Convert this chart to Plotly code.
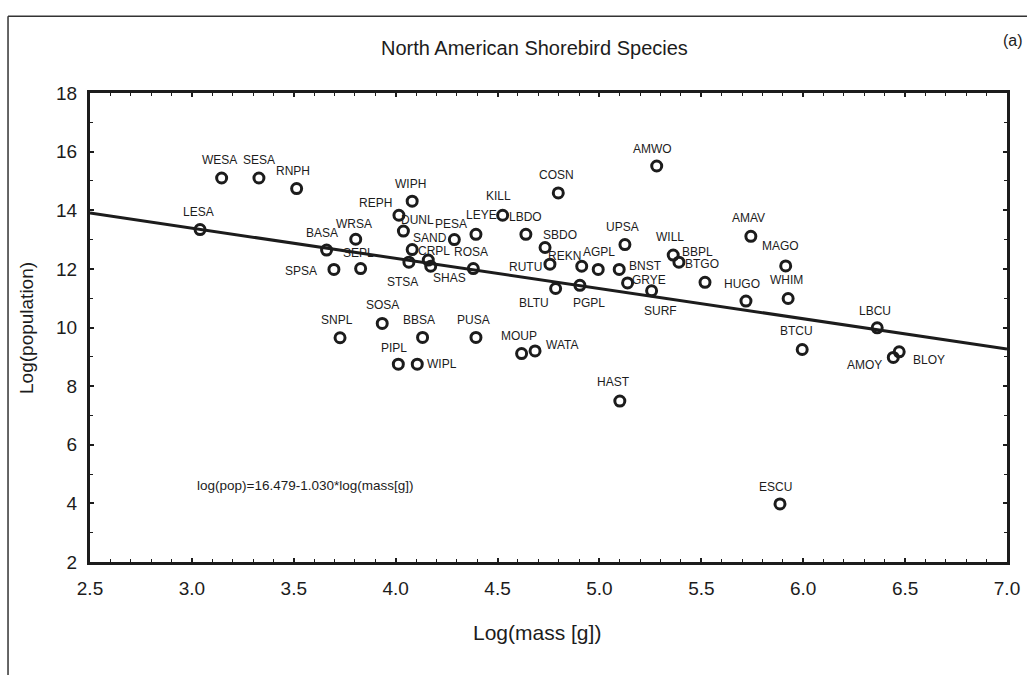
import plotly.graph_objects as go

# ---- data ----
species = ["WESA", "SESA", "RNPH", "LESA", "BASA", "WRSA", "SPSA", "SEPL", "WIPH", "REPH",
           "DUNL", "SAND", "STSA", "CRPL", "SHAS", "PESA", "LEYE", "KILL", "LBDO", "COSN",
           "AMWO", "ROSA", "SBDO", "RUTU", "REKN", "AGPL", "BNST", "UPSA", "GRYE", "SURF",
           "WILL", "BBPL", "BTGO", "BLTU", "PGPL", "HUGO", "AMAV", "MAGO", "WHIM", "LBCU",
           "BTCU", "AMOY", "BLOY", "ESCU", "HAST", "MOUP", "WATA", "PUSA", "BBSA", "SOSA",
           "SNPL", "PIPL", "WIPL"]
log_mass = [3.146, 3.329, 3.514, 3.040, 3.661, 3.804, 3.697, 3.828, 4.081, 4.016,
            4.038, 4.081, 4.065, 4.160, 4.172, 4.288, 4.394, 4.525, 4.639, 4.798,
            5.281, 4.381, 4.733, 4.757, 4.913, 4.994, 5.097, 5.125, 5.138, 5.256,
            5.362, 5.390, 5.518, 4.785, 4.904, 5.719, 5.743, 5.914, 5.926, 6.363,
            5.995, 6.442, 6.471, 5.886, 5.100, 4.618, 4.684, 4.394, 4.132, 3.934,
            3.727, 4.013, 4.106]
log_pop = [15.10, 15.10, 14.74, 13.34, 12.64, 13.01, 11.98, 12.01, 14.31, 13.83,
           13.29, 12.66, 12.23, 12.30, 12.09, 13.00, 13.18, 13.83, 13.18, 14.59,
           15.51, 12.01, 12.73, 12.16, 12.09, 11.98, 11.98, 12.83, 11.52, 11.25,
           12.47, 12.23, 11.54, 11.33, 11.44, 10.90, 13.11, 12.10, 10.99, 9.99,
           9.25, 8.98, 9.17, 3.98, 7.49, 9.11, 9.20, 9.66, 9.66, 10.14,
           9.65, 8.75, 8.75]
intercept = 16.479
slope = -1.030
x_range = [2.5, 7.0]
y_range = [2, 18]
x_ticks = [2.5, 3.0, 3.5, 4.0, 4.5, 5.0, 5.5, 6.0, 6.5, 7.0]
x_tick_text = ["2.5", "3.0", "3.5", "4.0", "4.5", "5.0", "5.5", "6.0", "6.5", "7.0"]
y_ticks = [2, 4, 6, 8, 10, 12, 14, 16, 18]

# ---- label placement (pixel offsets: dx right, dy down) ----
label_offsets = {
    "WESA": (-2, -18), "SESA": (0, -18), "RNPH": (-4, -18), "LESA": (-2, -18),
    "BASA": (-5, -17), "WRSA": (-2, -15), "SPSA": (-33, 2), "SEPL": (-2, -16),
    "WIPH": (-2, -17), "REPH": (-23, -12), "DUNL": (14, -11), "PESA": (-3, -16),
    "SAND": (18, -12), "CRPL": (6, -9), "STSA": (-6, 20), "SHAS": (19, 12),
    "LEYE": (6, -19), "KILL": (-4, -19), "LBDO": (0, -17), "COSN": (-2, -18),
    "AMWO": (-4, -17), "ROSA": (-2, -17), "SBDO": (15, -12), "RUTU": (-24, 3),
    "REKN": (-17, -10), "AGPL": (1, -17), "BNST": (26, -3), "UPSA": (-2, -18),
    "GRYE": (21, -3), "SURF": (9, 20), "WILL": (-3, -18), "BBPL": (19, -10),
    "BTGO": (-3, -18), "BLTU": (-22, 14), "PGPL": (9, 18), "HUGO": (-4, -17),
    "WHIM": (-2, -18), "LBCU": (-2, -17), "BTCU": (-6, -18), "AMOY": (-29, 8),
    "BLOY": (30, 8), "MAGO": (-5, -20), "AMAV": (-2, -18), "HAST": (-6, -19),
    "ESCU": (-4, -17), "SOSA": (0, -18), "SNPL": (-3, -18), "BBSA": (-4, -17),
    "PUSA": (-2, -17), "PIPL": (-4, -16), "WIPL": (25, 0), "MOUP": (-3, -18),
    "WATA": (27, -6),
}

FONT = "Liberation Sans, Arial, sans-serif"
INK = "#1c1c1c"

fig = go.Figure()

# regression line
line_x = list(x_range)
line_y = [intercept + slope * v for v in line_x]
fig.add_trace(go.Scatter(x=line_x, y=line_y, mode="lines",
                         line=dict(color=INK, width=3), hoverinfo="skip", showlegend=False))

# points
fig.add_trace(go.Scatter(x=log_mass, y=log_pop, mode="markers", text=species,
                         marker=dict(symbol="circle-open", size=10, color=INK,
                                     line=dict(width=3, color=INK)),
                         showlegend=False))

annotations = []
for name, xv, yv in zip(species, log_mass, log_pop):
    dx, dy = label_offsets[name]
    annotations.append(dict(x=xv, y=yv, xref="x", yref="y", text=name, showarrow=False,
                            xanchor="center", yanchor="middle",
                            xshift=dx, yshift=-dy, font=dict(family=FONT, size=12, color=INK)))

# equation text
annotations.append(dict(x=3.557, y=4.62, xref="x", yref="y",
                        text="log(pop)=16.479-1.030*log(mass[g])", showarrow=False,
                        xanchor="center", yanchor="middle",
                        font=dict(family=FONT, size=13.5, color=INK)))
# title
annotations.append(dict(x=0.485, y=1.097, xref="paper", yref="paper",
                        text="North American Shorebird Species", showarrow=False,
                        xanchor="center", yanchor="middle",
                        font=dict(family=FONT, size=20, color=INK)))
# panel letter
annotations.append(dict(x=1.0065, y=1.112, xref="paper", yref="paper", text="(a)",
                        xanchor="center", yanchor="middle",
                        showarrow=False, font=dict(family=FONT, size=16, color=INK)))
# axis titles
annotations.append(dict(x=0.4875, y=-0.151, xref="paper", yref="paper", text="Log(mass [g])",
                        xanchor="center", yanchor="middle",
                        showarrow=False, font=dict(family=FONT, size=21, color=INK)))
annotations.append(dict(x=-0.07, y=0.4986, xref="paper", yref="paper", text="Log(population)",
                        textangle=-90, showarrow=False, xanchor="center", yanchor="middle",
                        font=dict(family=FONT, size=19, color=INK)))

shapes = [
    dict(type="line", xref="paper", yref="paper", x0=-0.0894, x1=1.0218, y0=1.1634, y1=1.1634,
         line=dict(color="#333333", width=1.5)),
    dict(type="line", xref="paper", yref="paper", x0=-0.0894, x1=-0.0894, y0=1.1634, y1=-0.25,
         line=dict(color="#333333", width=1.5)),
]

fig.update_layout(
    width=1031, height=675,
    margin=dict(l=90, r=24, t=93, b=113),
    paper_bgcolor="white", plot_bgcolor="white",
    annotations=annotations, shapes=shapes,
    font=dict(family=FONT, color=INK),
)
fig.update_xaxes(range=x_range, tickvals=x_ticks, ticktext=x_tick_text,
                 showgrid=False, zeroline=False,
                 showline=True, linecolor=INK, linewidth=3, mirror="allticks",
                 ticks="inside", ticklen=4, tickwidth=1.5, tickcolor=INK,
                 minor=dict(dtick=0.1, ticks="inside", ticklen=3, tickwidth=1.2, tickcolor=INK),
                 tickfont=dict(family=FONT, size=19, color=INK), ticklabelstandoff=7)
fig.update_yaxes(range=y_range, tickvals=y_ticks,
                 showgrid=False, zeroline=False,
                 showline=True, linecolor=INK, linewidth=3, mirror="allticks",
                 ticks="inside", ticklen=4, tickwidth=1.5, tickcolor=INK,
                 minor=dict(dtick=1, ticks="inside", ticklen=3, tickwidth=1.2, tickcolor=INK),
                 tickfont=dict(family=FONT, size=19, color=INK), ticklabelstandoff=6)

fig.write_html("out.html", config={"displayModeBar": False},
               post_script="document.body.style.margin='0';")
